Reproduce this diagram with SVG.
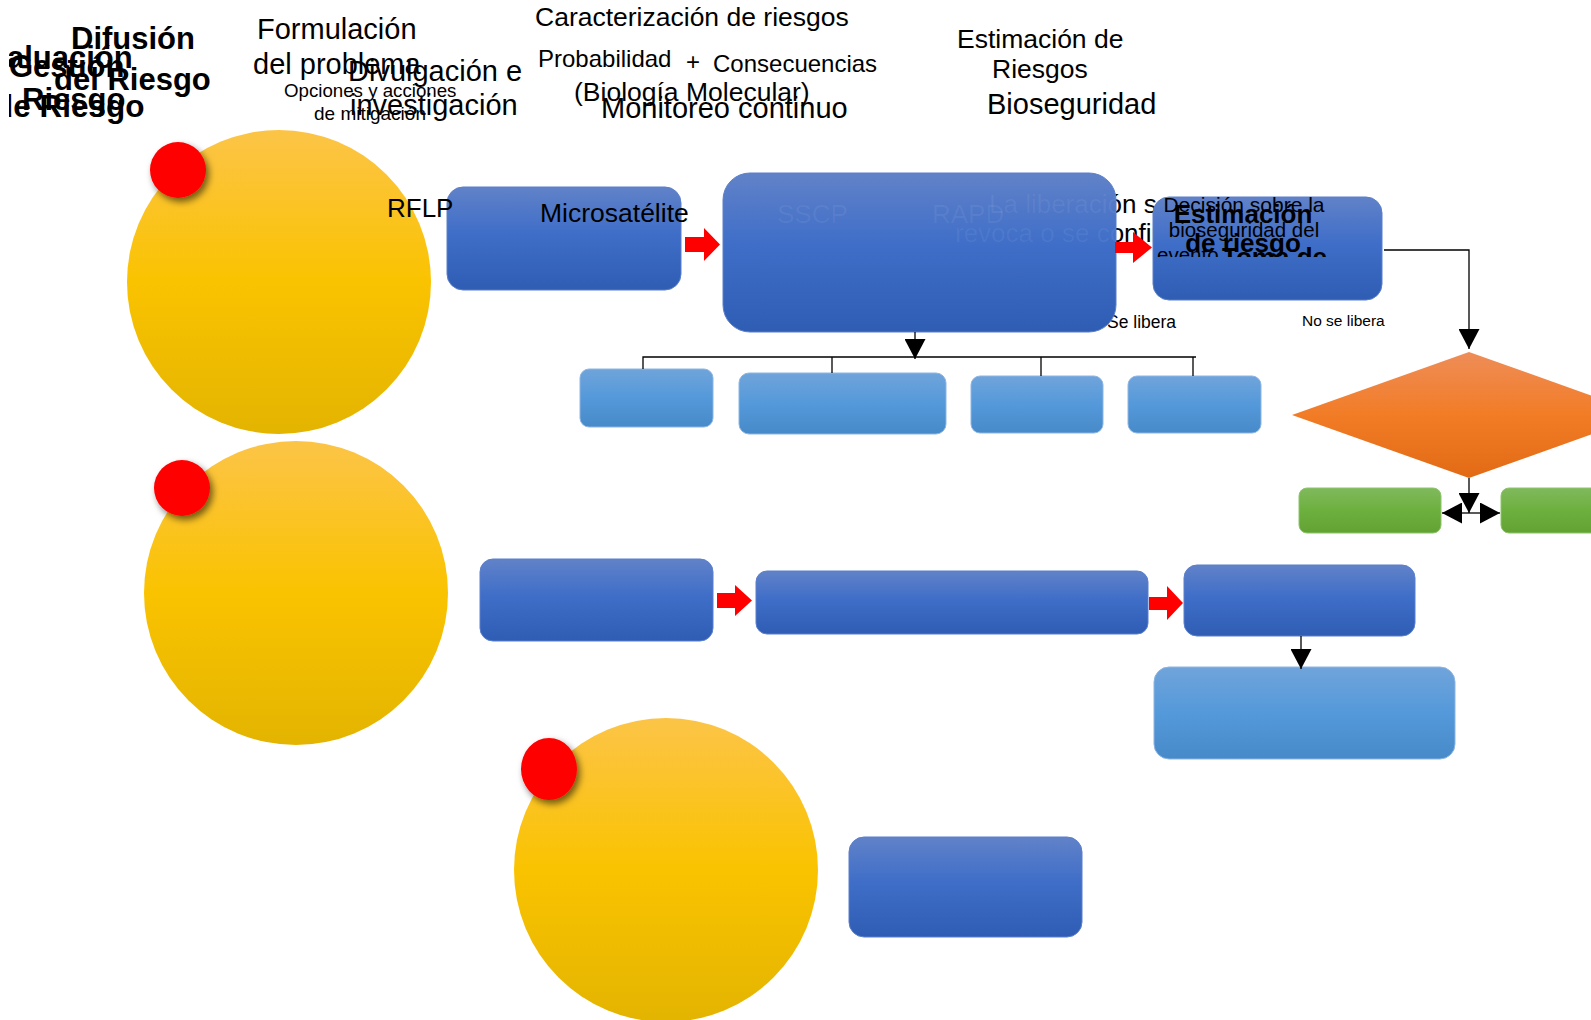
<svg xmlns="http://www.w3.org/2000/svg" width="1591" height="1020" viewBox="0 0 1591 1020">
  <defs>
    <linearGradient id="gGold" x1="0" y1="0" x2="0" y2="1">
      <stop offset="0" stop-color="#FCC447"/>
      <stop offset="0.5" stop-color="#FAC300"/>
      <stop offset="1" stop-color="#E3B400"/>
    </linearGradient>
    <linearGradient id="gBlue" x1="0" y1="0" x2="0" y2="1">
      <stop offset="0" stop-color="#6182C8"/>
      <stop offset="0.45" stop-color="#3F6EC8"/>
      <stop offset="1" stop-color="#2F5DB4"/>
    </linearGradient>
    <linearGradient id="gSky" x1="0" y1="0" x2="0" y2="1">
      <stop offset="0" stop-color="#70A4DA"/>
      <stop offset="0.5" stop-color="#5499DA"/>
      <stop offset="1" stop-color="#478AC9"/>
    </linearGradient>
    <linearGradient id="gOrange" x1="0" y1="0" x2="0" y2="1">
      <stop offset="0" stop-color="#EE8D58"/>
      <stop offset="0.5" stop-color="#F27C26"/>
      <stop offset="1" stop-color="#E26A15"/>
    </linearGradient>
    <linearGradient id="gGreen" x1="0" y1="0" x2="0" y2="1">
      <stop offset="0" stop-color="#80B95D"/>
      <stop offset="0.5" stop-color="#6DB03E"/>
      <stop offset="1" stop-color="#62A233"/>
    </linearGradient>
    <filter id="shadow" x="-50%" y="-50%" width="200%" height="200%">
      <feDropShadow dx="3" dy="4" stdDeviation="3.5" flood-color="#000" flood-opacity="0.55"/>
    </filter>
    <clipPath id="clipLeft">
      <rect x="9" y="0" width="300" height="140"/>
    </clipPath>
    <clipPath id="clipB">
      <rect x="723" y="173" width="393" height="159" rx="27"/>
    </clipPath>
    <clipPath id="clipC">
      <rect x="1140" y="185" width="260" height="72"/>
    </clipPath>
    <marker id="triBig" viewBox="0 0 20 21" refX="20" refY="10.5" markerWidth="20" markerHeight="21" markerUnits="userSpaceOnUse" orient="auto">
      <path d="M0,0 L20,10.5 L0,21 Z" fill="#000"/>
    </marker>
  </defs>
  <style>
    .t { font-family: "Liberation Sans", Arial, sans-serif; fill: #000; }
    .b { font-weight: bold; }
    .dark { fill: url(#gBlue); stroke: #5A7FCB; stroke-width: 1; }
    .sky { fill: url(#gSky); stroke: #8DB5E2; stroke-width: 1; }
    .gold { fill: url(#gGold); }
    .dot { fill: #FF0000; filter: url(#shadow); }
    .green { fill: url(#gGreen); stroke: #8CC46C; stroke-width: 1; }
    .redArrow { fill: #FF0000; }
    .wire { fill: none; stroke: #000; stroke-width: 1.3; }
    .ghost { fill: #FFFFFF; fill-opacity: 0.06; }
  </style>

  <rect width="1591" height="1020" fill="#FFFFFF"/>

  <!-- phase circles -->
  <g id="circle-1">
    <circle class="gold" cx="279" cy="282" r="152"/>
    <circle class="dot" cx="178" cy="170" r="28"/>
  </g>
  <g id="circle-2">
    <circle class="gold" cx="296" cy="593" r="152"/>
    <circle class="dot" cx="182" cy="488" r="28"/>
  </g>
  <g id="circle-3">
    <circle class="gold" cx="666" cy="870" r="152"/>
    <ellipse class="dot" cx="549" cy="769" rx="28" ry="31"/>
  </g>

  <!-- header labels -->
  <g id="labels-left" clip-path="url(#clipLeft)">
    <text class="t b" x="71" y="49" font-size="31">Difusión</text>
    <text class="t b" x="-31" y="68" font-size="31">Evaluación</text>
    <text class="t b" x="9" y="77" font-size="31">Gestión</text>
    <text class="t b" x="54" y="90" font-size="31">del Riesgo</text>
    <text class="t b" x="22" y="110" font-size="31">Riesgo</text>
    <text class="t b" x="-6" y="117" font-size="31.5">de Riesgo</text>
  </g>
  <g id="labels-top">
    <text class="t" x="257" y="39" font-size="29">Formulación</text>
    <text class="t" x="253" y="74" font-size="29">del problema</text>
    <text class="t" x="284" y="97" font-size="18.7">Opciones y acciones</text>
    <text class="t" x="314" y="120" font-size="19">de mitigación</text>
    <text class="t" x="348" y="81" font-size="29">Divulgación e</text>
    <text class="t" x="350" y="115" font-size="29">investigación</text>
    <text class="t" x="535" y="26" font-size="26.5">Caracterización de riesgos</text>
    <text class="t" x="538" y="67" font-size="24">Probabilidad</text>
    <text class="t" x="686" y="70" font-size="24">+</text>
    <text class="t" x="713" y="72" font-size="24">Consecuencias</text>
    <text class="t" x="574" y="101" font-size="26.5">(Biología Molecular)</text>
    <text class="t" x="601" y="118" font-size="29">Monitoreo continuo</text>
    <text class="t" x="957" y="48" font-size="26.5">Estimación de</text>
    <text class="t" x="992" y="78" font-size="26.5">Riesgos</text>
    <text class="t" x="987" y="114" font-size="29">Bioseguridad</text>
  </g>

  <!-- texts lying under the large box -->
  <g id="box-b-texts">
    <text class="t" x="777" y="223" font-size="26">SSCP</text>
    <text class="t" x="932" y="223" font-size="26">RAPD</text>
    <text class="t" x="989" y="213" font-size="26">La liberación se</text>
    <text class="t" x="955" y="242" font-size="26">revoca o se confirma</text>
    <text class="t" x="1107" y="328" font-size="17.5">Se libera</text>
  </g>

  <!-- row 1 -->
  <g id="box-a">
    <rect class="dark" x="447" y="187" width="234" height="103" rx="16"/>
  </g>
  <g id="box-b">
    <rect class="dark" x="723" y="173" width="393" height="159" rx="27"/>
    <g clip-path="url(#clipB)" class="ghost" font-family="Liberation Sans, Arial, sans-serif">
      <text x="777" y="223" font-size="26">SSCP</text>
      <text x="932" y="223" font-size="26">RAPD</text>
      <text x="989" y="213" font-size="26">La liberación se</text>
      <text x="955" y="242" font-size="26">revoca o se confirma</text>
    </g>
  </g>
  <g id="box-c">
    <rect class="dark" x="1153" y="197" width="229" height="103" rx="16"/>
    <g clip-path="url(#clipC)">
      <text class="t" x="1244" y="212" font-size="21" text-anchor="middle">Decisión sobre la</text>
      <text class="t" x="1244" y="237" font-size="20.5" text-anchor="middle">bioseguridad del</text>
      <text class="t" x="1157" y="262" font-size="20.5">evento</text>
      <text class="t b" x="1243" y="223" font-size="26" text-anchor="middle">Estimación</text>
      <text class="t b" x="1243" y="252" font-size="26" text-anchor="middle">de riesgo</text>
      <text class="t b" x="1222" y="266" font-size="26">Toma de</text>
    </g>
  </g>
  <g id="sub-1"><rect class="sky" x="580" y="369" width="133" height="58" rx="9"/></g>
  <g id="sub-2"><rect class="sky" x="739" y="373" width="207" height="61" rx="10"/></g>
  <g id="sub-3"><rect class="sky" x="971" y="376" width="132" height="57" rx="9"/></g>
  <g id="sub-4"><rect class="sky" x="1128" y="376" width="133" height="57" rx="9"/></g>
  <g id="decision">
    <polygon points="1292,415 1469,352 1646,415 1469,478" fill="url(#gOrange)"/>
  </g>
  <g id="out-left"><rect class="green" x="1299" y="488" width="142" height="45" rx="8"/></g>
  <g id="out-right"><rect class="green" x="1501" y="488" width="120" height="45" rx="8"/></g>

  <!-- row 2 -->
  <g id="box-d"><rect class="dark" x="480" y="559" width="233" height="82" rx="13"/></g>
  <g id="box-e"><rect class="dark" x="756" y="571" width="392" height="63" rx="11"/></g>
  <g id="box-f"><rect class="dark" x="1184" y="565" width="231" height="71" rx="13"/></g>
  <g id="box-g"><rect class="sky" x="1154" y="667" width="301" height="92" rx="15"/></g>

  <!-- row 3 -->
  <g id="box-h"><rect class="dark" x="849" y="837" width="233" height="100" rx="15"/></g>

  <!-- labels on shapes -->
  <g id="labels-shapes">
    <text class="t" x="387" y="217" font-size="26">RFLP</text>
    <text class="t" x="540" y="222" font-size="26.5">Microsatélite</text>
    <text class="t" x="1302" y="326" font-size="15.5">No se libera</text>
  </g>

  <!-- connectors -->
  <g id="connectors">
    <path class="redArrow" d="M685,237 H704 V228 L720,244.5 L704,261 V252 H685 Z"/>
    <path class="redArrow" d="M1115,242 H1133 V232 L1152,247.5 L1133,263 V253 H1115 Z"/>
    <path class="redArrow" d="M717,593 H735 V585 L752,600.5 L735,616 V608 H717 Z"/>
    <path class="redArrow" d="M1149,597 H1167 V586 L1183,603 L1167,620 V610 H1149 Z"/>

    <path class="wire" d="M915,332 V359" marker-end="url(#triBig)"/>
    <path class="wire" d="M643,369 V357 H1196"/>
    <path class="wire" d="M832,357 V373"/>
    <path class="wire" d="M1041,357 V376"/>
    <path class="wire" d="M1193,357 V376"/>

    <path class="wire" d="M1384,250 H1469 V349" marker-end="url(#triBig)"/>
    <path class="wire" d="M1469,478 V513" marker-end="url(#triBig)"/>
    <path class="wire" d="M1470,513 H1442" marker-end="url(#triBig)"/>
    <path class="wire" d="M1470,513 H1500" marker-end="url(#triBig)"/>

    <path class="wire" d="M1301,636 V669" marker-end="url(#triBig)"/>
  </g>
</svg>
